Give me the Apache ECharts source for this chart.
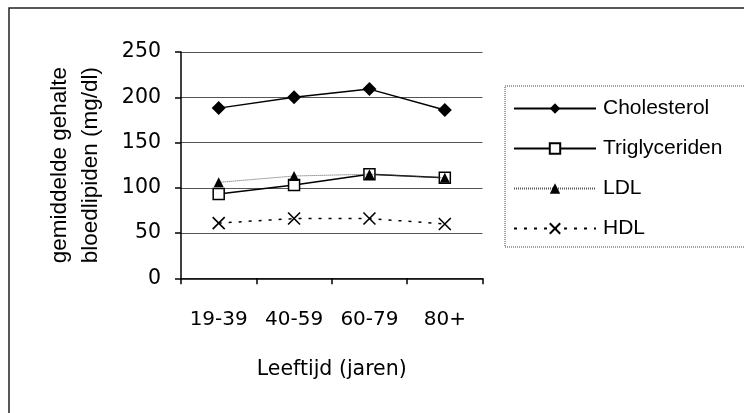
<!DOCTYPE html>
<html>
<head>
<meta charset="utf-8">
<script src="https://cdn.jsdelivr.net/npm/echarts@6/dist/echarts.min.js"></script>
<style>
  html, body { margin: 0; padding: 0; background: #fff; }
  #chart { width: 744px; height: 413px; }
</style>
</head>
<body>
<div id="chart"></div>
<script>
// Age groups and mean blood lipid levels (mg/dl)
const ageGroups = ['19-39', '40-59', '60-79', '80+'];
const cholesterol = [188, 200, 209, 186];
const triglyceriden = [93, 103, 115, 111];
const ldl = [106, 113, 115, 111];
const hdl = [61, 66, 66, 60];
const yTicks = [0, 50, 100, 150, 200, 250];

const SANS = 'Liberation Sans, Arial, sans-serif';
const WIDE = 'DejaVu Sans, Verdana, sans-serif';
const crossSymbol = 'path://M0,0L10,10M10,0L0,10';

const chart = echarts.init(document.getElementById('chart'), null, { renderer: 'canvas' });

chart.setOption({
  animation: false,
  backgroundColor: '#fff',
  textStyle: { fontFamily: SANS, color: '#000' },
  graphic: [
    // outer frame
    { type: 'rect', shape: { x: 9, y: 8, width: 800, height: 500 },
      style: { fill: 'none', stroke: '#222', lineWidth: 1.5 }, silent: true },
    // legend frame
    { type: 'rect', shape: { x: 505, y: 86, width: 300, height: 161 },
      style: { fill: 'none', stroke: '#444', lineWidth: 1, lineDash: [1, 1] }, silent: true }
  ],
  grid: { left: 181, right: 261.5, top: 52, bottom: 134.7, containLabel: false },
  legend: {
    orient: 'vertical',
    left: 513,
    top: 98,
    itemWidth: 82,
    itemHeight: 13,
    itemGap: 19,
    padding: 0,
    textStyle: { fontFamily: SANS, fontSize: 21, color: '#000', padding: [0, 0, 0, 2] },
    data: ['Cholesterol', 'Triglyceriden', 'LDL', 'HDL']
  },
  xAxis: {
    type: 'category',
    data: ageGroups,
    boundaryGap: true,
    name: 'Leeftijd (jaren)',
    nameLocation: 'middle',
    nameGap: 81,
    nameTextStyle: { fontFamily: WIDE, fontSize: 20.5, color: '#000' },
    axisLine: { lineStyle: { color: '#000', width: 1.5 } },
    axisTick: { show: true, length: 6, interval: 0, lineStyle: { color: '#000', width: 1.5 } },
    axisLabel: { fontFamily: WIDE, fontSize: 20, color: '#000', margin: 31, interval: 0, hideOverlap: false },
    splitLine: { show: false }
  },
  yAxis: {
    type: 'value',
    min: yTicks[0],
    max: yTicks[yTicks.length - 1],
    interval: 50,
    name: 'gemiddelde gehalte\nbloedlipiden (mg/dl)',
    nameLocation: 'middle',
    nameRotate: 90,
    nameGap: 75,
    nameTextStyle: { fontFamily: SANS, fontSize: 22.5, color: '#000', lineHeight: 31 },
    axisLine: { show: true, lineStyle: { color: '#000', width: 1.5 } },
    axisTick: { show: true, length: 6, lineStyle: { color: '#000', width: 1.5 } },
    axisLabel: { fontFamily: WIDE, fontSize: 20.5, color: '#000', margin: 20 },
    splitLine: { show: true, lineStyle: { color: '#555', width: 1.2 } }
  },
  series: [
    {
      name: 'Cholesterol', type: 'line', data: cholesterol,
      symbol: 'diamond', symbolSize: 14, showAllSymbol: true,
      lineStyle: { color: '#000', width: 1.5 },
      itemStyle: { color: '#000', borderColor: '#000', borderWidth: 0 },
      z: 5
    },
    {
      name: 'Triglyceriden', type: 'line', data: triglyceriden,
      symbol: 'rect', symbolSize: 11,
      lineStyle: { color: '#000', width: 1.5 },
      itemStyle: { color: '#fff', borderColor: '#000', borderWidth: 1.5 },
      z: 3
    },
    {
      name: 'LDL', type: 'line', data: ldl,
      symbol: 'triangle', symbolSize: 10,
      lineStyle: { color: '#555', width: 1, type: [1, 1] },
      itemStyle: { color: '#000', borderColor: '#000', borderWidth: 0 },
      z: 4
    },
    {
      name: 'HDL', type: 'line', data: hdl,
      symbol: crossSymbol, symbolSize: 12, symbolKeepAspect: true,
      lineStyle: { color: '#000', width: 1.5, type: [3, 7] },
      itemStyle: { color: 'rgba(0,0,0,0)', borderColor: '#000', borderWidth: 1.6 },
      z: 4
    }
  ]
});
</script>
</body>
</html>
